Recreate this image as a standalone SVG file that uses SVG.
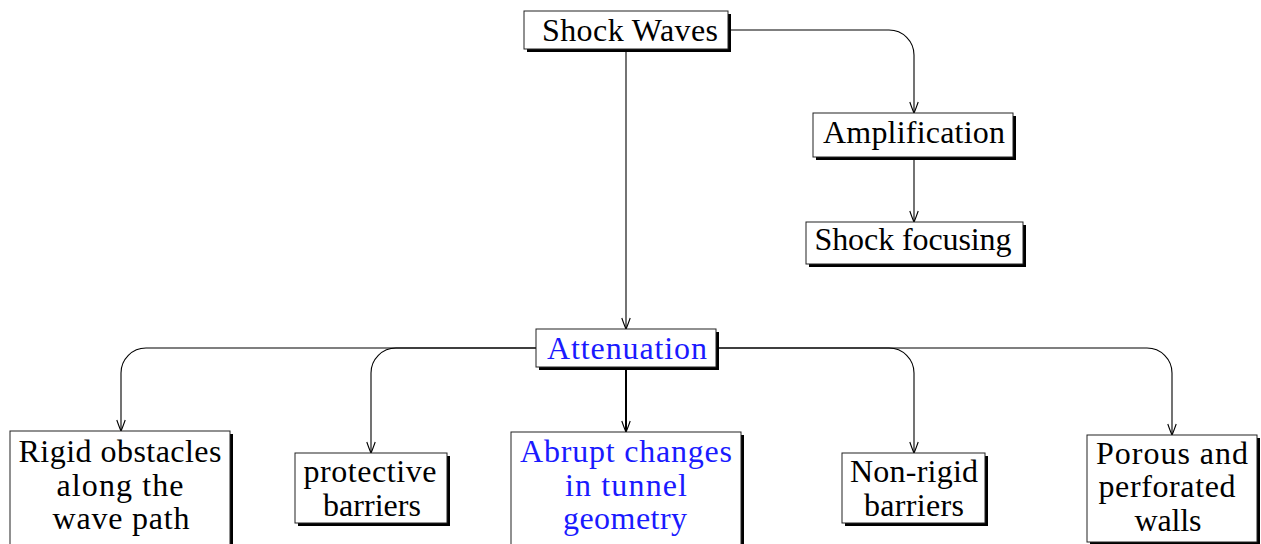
<svg xmlns="http://www.w3.org/2000/svg" width="1261" height="544" viewBox="0 0 1261 544">
<style>
.shadow{fill:#000}
.box{fill:#fff;stroke:#222;stroke-width:1}
.t{font-family:"Liberation Serif","Times New Roman",serif;font-size:32px;fill:#000;text-anchor:middle}
.blue{fill:#1a1aff}
.edge{fill:none;stroke:#000;stroke-width:1.1;marker-end:url(#arr)}
.thick{stroke-width:2}
</style>
<defs>
<marker id="arr" markerUnits="userSpaceOnUse" markerWidth="14" markerHeight="10" refX="12" refY="5" orient="auto" overflow="visible">
<path d="M1,0.8 C5,2.2 9,3.6 12,5 C9,6.4 5,7.8 1,9.2" fill="none" stroke="#000" stroke-width="1.1"/>
</marker>
</defs>
<g id="connectors">
<path class="edge" d="M728,30 H889 A25,25 0 0 1 914,55 V113"/>
<path class="edge" d="M626,49 V329"/>
<path class="edge" d="M914,157 V222"/>
<path class="edge" d="M536,348 H146 A25,25 0 0 0 121,373 V431"/>
<path class="edge" d="M536,348 H396 A25,25 0 0 0 371,373 V453"/>
<path class="edge thick" d="M626,367 V432"/>
<path class="edge" d="M716,348 H889 A25,25 0 0 1 914,373 V453"/>
<path class="edge" d="M716,348 H1147 A25,25 0 0 1 1172,373 V435"/>
</g>
<g id="shock-waves">
<rect class="shadow" x="527" y="14" width="204" height="38"/>
<rect class="box" x="524" y="11" width="204" height="38"/>
<text class="t" x="630" y="41" textLength="176">Shock Waves</text>
</g>
<g id="amplification">
<rect class="shadow" x="816" y="116" width="200" height="44"/>
<rect class="box" x="813" y="113" width="200" height="44"/>
<text class="t" x="914" y="143" textLength="182">Amplification</text>
</g>
<g id="shock-focusing">
<rect class="shadow" x="809" y="225" width="217" height="42"/>
<rect class="box" x="806" y="222" width="217" height="42"/>
<text class="t" x="913" y="250" textLength="197">Shock focusing</text>
</g>
<g id="attenuation">
<rect class="shadow" x="539" y="332" width="180" height="38"/>
<rect class="box" x="536" y="329" width="180" height="38"/>
<text class="t blue" x="627" y="359" textLength="160">Attenuation</text>
</g>
<g id="rigid">
<rect class="shadow" x="13" y="434" width="220" height="114"/>
<rect class="box" x="10" y="431" width="220" height="114"/>
<text class="t" x="120" y="462" textLength="203">Rigid obstacles</text>
<text class="t" x="120" y="496" textLength="127">along the</text>
<text class="t" x="121" y="529" textLength="137">wave path</text>
</g>
<g id="protective">
<rect class="shadow" x="298" y="456" width="152" height="70"/>
<rect class="box" x="295" y="453" width="152" height="70"/>
<text class="t" x="370" y="482" textLength="133">protective</text>
<text class="t" x="372" y="516" textLength="98">barriers</text>
</g>
<g id="abrupt">
<rect class="shadow" x="514" y="435" width="230" height="113"/>
<rect class="box" x="511" y="432" width="230" height="113"/>
<text class="t blue" x="626" y="462" textLength="212">Abrupt changes</text>
<text class="t blue" x="626" y="496" textLength="122">in tunnel</text>
<text class="t blue" x="625" y="529" textLength="124">geometry</text>
</g>
<g id="non-rigid">
<rect class="shadow" x="845" y="456" width="143" height="70"/>
<rect class="box" x="842" y="453" width="143" height="70"/>
<text class="t" x="914" y="482" textLength="128">Non-rigid</text>
<text class="t" x="914" y="516" textLength="100">barriers</text>
</g>
<g id="porous">
<rect class="shadow" x="1090" y="438" width="170" height="107"/>
<rect class="box" x="1087" y="435" width="170" height="107"/>
<text class="t" x="1172" y="464" textLength="152">Porous and</text>
<text class="t" x="1167" y="497" textLength="137">perforated</text>
<text class="t" x="1168" y="531" textLength="67">walls</text>
</g>
</svg>
